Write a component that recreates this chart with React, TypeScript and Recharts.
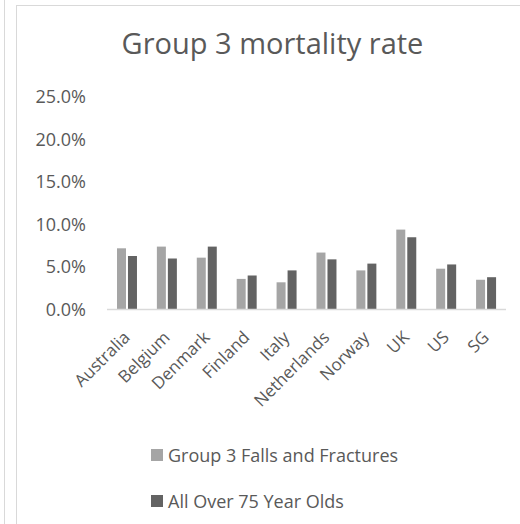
import React from 'react';
import { BarChart, Bar, XAxis, YAxis } from 'recharts';

const countries = ['Australia', 'Belgium', 'Denmark', 'Finland', 'Italy', 'Netherlands', 'Norway', 'UK', 'US', 'SG'];
const fallsFractures = [0.072, 0.074, 0.061, 0.036, 0.032, 0.067, 0.046, 0.094, 0.048, 0.035];
const over75 = [0.063, 0.060, 0.074, 0.040, 0.046, 0.059, 0.054, 0.085, 0.053, 0.038];
const yTicks = [0, 0.05, 0.1, 0.15, 0.2, 0.25];

const seriesNames = ['Group 3 Falls and Fractures', 'All Over 75 Year Olds'];
const seriesColors = ['#a5a5a5', '#636363'];

const FONT = '"Open Sans", sans-serif';
const TEXT = '#595959';
const BORDER = '#d9d9d9';

const data = countries.map((name, i) => ({
    name,
    falls: fallsFractures[i],
    over75: over75[i],
}));

const CountryTick = (props: any) => {
    const { x, y, payload } = props;
    const ax = x + 4;
    const ay = y + 29;
    return (
        <text
            x={ax}
            y={ay}
            transform={`rotate(-45 ${ax} ${ay})`}
            textAnchor="end"
            fill={TEXT}
            fontSize={17}
            fontFamily={FONT}
        >
            {payload.value}
        </text>
    );
};

export default function App() {
    return (
        <div style={{ position: 'absolute', left: 0, top: 0, width: 520, height: 524, background: '#fff', fontFamily: FONT }}>
            {/* frame lines */}
            <div style={{ position: 'absolute', left: 4, top: 0, width: 1, height: 524, background: BORDER }} />
            <div style={{ position: 'absolute', left: 16, top: 5, width: 504, height: 530, borderLeft: `1px solid ${BORDER}`, borderTop: `1px solid ${BORDER}` }} />

            <div style={{ position: 'absolute', left: 21, top: 23, width: 503, textAlign: 'center', fontSize: 29, color: TEXT, lineHeight: '40px' }}>
                Group 3 mortality rate
            </div>

            <div style={{ position: 'absolute', left: 0, top: 0 }}>
                <BarChart
                    width={520}
                    height={524}
                    data={data}
                    margin={{ top: 97, right: 14, left: 0, bottom: 0 }}
                    barCategoryGap="25%"
                    barGap={2}
                >
                    <XAxis
                        dataKey="name"
                        height={214.5}
                        interval={0}
                        tickLine={false}
                        tickSize={0}
                        tickMargin={0}
                        axisLine={{ stroke: BORDER, strokeWidth: 1.5 }}
                        tick={<CountryTick />}
                    />
                    <YAxis
                        width={107}
                        domain={[0, 0.25]}
                        ticks={yTicks}
                        tickFormatter={(v: number) => `${(v * 100).toFixed(1)}%`}
                        axisLine={false}
                        tickLine={false}
                        tickSize={0}
                        tickMargin={21}
                        tick={{ fill: TEXT, fontSize: 18, fontFamily: FONT }}
                    />
                    <Bar dataKey="falls" name={seriesNames[0]} fill={seriesColors[0]} isAnimationActive={false} />
                    <Bar dataKey="over75" name={seriesNames[1]} fill={seriesColors[1]} isAnimationActive={false} />
                </BarChart>
            </div>

            <div style={{ position: 'absolute', left: 151, top: 440, fontSize: 18, color: TEXT }}>
                {seriesNames.map((n, i) => (
                    <div key={n} style={{ display: 'flex', alignItems: 'center', height: 30, marginBottom: i === 0 ? 16 : 0 }}>
                        <span style={{ display: 'inline-block', width: 12, height: 12, background: seriesColors[i], marginRight: 5 }} />
                        <span>{n}</span>
                    </div>
                ))}
            </div>
        </div>
    );
}
